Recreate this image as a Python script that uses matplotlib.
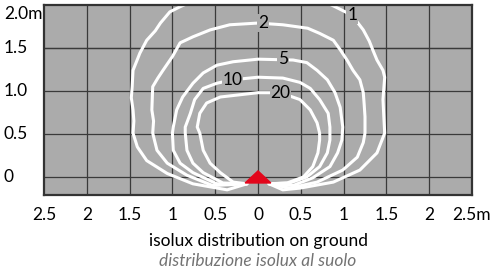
import numpy as np
import matplotlib.pyplot as plt

# isolux curves (lux), x/y in metres
c1_x = [-0.13, -0.36, -0.76, -1.06, -1.30, -1.41, -1.46, -1.45, -1.46, -1.48, -1.47, -1.46, -1.38, -1.30, -1.20, -1.14, -1.03, -0.91, -0.75,
        0.75, 0.90, 1.10, 1.23, 1.30, 1.34, 1.39, 1.46, 1.48, 1.47, 1.46, 1.47, 1.48, 1.39, 1.19, 0.88, 0.49, 0.29, 0.13]
c1_y = [-0.08, -0.15, -0.08, 0.04, 0.19, 0.35, 0.51, 0.65, 0.78, 0.92, 1.05, 1.24, 1.44, 1.59, 1.70, 1.79, 1.92, 1.98, 2.05,
        2.05, 1.98, 1.88, 1.71, 1.58, 1.48, 1.36, 1.24, 1.16, 1.03, 0.90, 0.70, 0.51, 0.28, 0.08, -0.06, -0.13, -0.15, -0.08]

c2_x = [-0.13, -0.53, -0.83, -1.06, -1.18, -1.23, -1.22, -1.24, -1.23, -1.17, -1.11, -1.00, -0.91, -0.76, -0.56, -0.33, 0.0,
        0.29, 0.58, 0.72, 0.88, 0.96, 1.04, 1.11, 1.19, 1.23, 1.24, 1.25, 1.25, 1.23, 1.16, 0.99, 0.69, 0.37, 0.13]
c2_y = [-0.08, -0.10, 0.02, 0.16, 0.31, 0.51, 0.65, 0.78, 1.05, 1.15, 1.24, 1.40, 1.56, 1.63, 1.71, 1.77, 1.79,
        1.77, 1.73, 1.67, 1.59, 1.48, 1.36, 1.24, 1.13, 0.98, 0.85, 0.70, 0.51, 0.40, 0.23, 0.08, -0.06, -0.13, -0.08]

c5_x = [-0.13, -0.48, -0.76, -0.91, -0.99, -1.00, -0.99, -0.95, -0.88, -0.76, -0.64, -0.48, -0.29, 0.0,
        0.41, 0.57, 0.69, 0.81, 0.90, 0.96, 0.99, 0.98, 0.93, 0.84, 0.64, 0.41, 0.13]
c5_y = [-0.08, -0.08, 0.05, 0.16, 0.31, 0.51, 0.58, 0.78, 0.93, 1.09, 1.21, 1.30, 1.34, 1.37,
        1.36, 1.33, 1.24, 1.13, 0.98, 0.81, 0.58, 0.43, 0.28, 0.12, -0.01, -0.10, -0.08]

c10_x = [-0.13, -0.41, -0.64, -0.76, -0.83, -0.85, -0.85, -0.79, -0.74, -0.64, -0.48, -0.30, 0.0,
         0.29, 0.49, 0.61, 0.72, 0.82, 0.84, 0.84, 0.81, 0.72, 0.57, 0.37, 0.13]
c10_y = [-0.08, -0.07, 0.05, 0.16, 0.31, 0.51, 0.58, 0.74, 0.90, 1.03, 1.09, 1.13, 1.16,
         1.15, 1.10, 1.03, 0.90, 0.74, 0.58, 0.43, 0.28, 0.12, 0.0, -0.07, -0.08]

c20_x = [-0.13, -0.29, -0.44, -0.56, -0.64, -0.68, -0.71, -0.68, -0.60, -0.44, 0.0,
         0.26, 0.49, 0.61, 0.69, 0.72, 0.72, 0.70, 0.64, 0.53, 0.34, 0.13]
c20_y = [-0.08, -0.06, 0.05, 0.16, 0.31, 0.51, 0.58, 0.74, 0.86, 0.93, 0.98,
         0.98, 0.90, 0.78, 0.63, 0.51, 0.43, 0.28, 0.12, 0.0, -0.07, -0.08]

curve_names = ["1", "2", "5", "10", "20"]
label_x = [1.10, 0.06, 0.29, -0.30, 0.26]
label_y = [1.88, 1.79, 1.37, 1.13, 0.98]

# sensor symbol
sensor_x = [-0.15, 0.0, 0.15]
sensor_y = [-0.07, 0.07, -0.07]

xticks = [-2.5, -2, -1.5, -1, -0.5, 0, 0.5, 1, 1.5, 2, 2.5]
xtick_labels = ["2.5", "2", "1.5", "1", "0.5", "0", "0.5", "1", "1.5", "2", "2.5m"]
yticks = [0, 0.5, 1.0, 1.5, 2.0]
ytick_labels = ["0", "0.5", "1.0", "1.5", "2.0m"]

plt.rcParams['font.family'] = ['Lato', 'DejaVu Sans']
bg = '#ababab'
fs = 12.5

fig = plt.figure(figsize=(4.98, 2.76), dpi=100)
ax = fig.add_axes([44/498, 1 - 195/276, 428/498, 190/276])
ax.set_facecolor(bg)
ax.set_xlim(-2.5, 2.5)
ax.set_ylim(-0.21, 2.0)

for v in xticks[1:-1]:
    ax.axvline(v, color='#3a3a3a', lw=0.9, zorder=1)
for v in yticks[:-1] + [1.5]:
    ax.axhline(v, color='#3a3a3a', lw=0.9, zorder=1)

for cx, cy in [(c1_x, c1_y), (c2_x, c2_y), (c5_x, c5_y), (c10_x, c10_y), (c20_x, c20_y)]:
    ax.plot(cx, cy, color='white', lw=2.2, solid_joinstyle='round', solid_capstyle='round', zorder=2)

for name, lx, ly in zip(curve_names, label_x, label_y):
    ax.text(lx, ly, name, ha='center', va='center', fontsize=fs, color='black', zorder=3,
            bbox=dict(facecolor=bg, edgecolor='none', pad=0.5))

ax.fill(sensor_x, sensor_y, color='#e3061b', zorder=4)

ax.set_xticks(xticks)
ax.set_xticklabels(xtick_labels, fontsize=fs)
ax.set_yticks([])
ax.tick_params(axis='x', length=0, pad=9)
for v, lab in zip(yticks, ytick_labels):
    yy = v if v < 2.0 else 1.90
    ax.text(-40/428, yy, lab, transform=ax.get_yaxis_transform(), ha='left', va='center', fontsize=fs)

for s in ax.spines.values():
    s.set_color('#333333')
    s.set_linewidth(1.6)

fig.text(258/498, 1 - 241/276, "isolux distribution on ground", ha='center', va='center', fontsize=fs)
fig.text(258/498, 1 - 261/276, "distribuzione isolux al suolo", ha='center', va='center', fontsize=fs,
         style='italic', color='#737373')

fig.savefig('out.png', dpi=100)
